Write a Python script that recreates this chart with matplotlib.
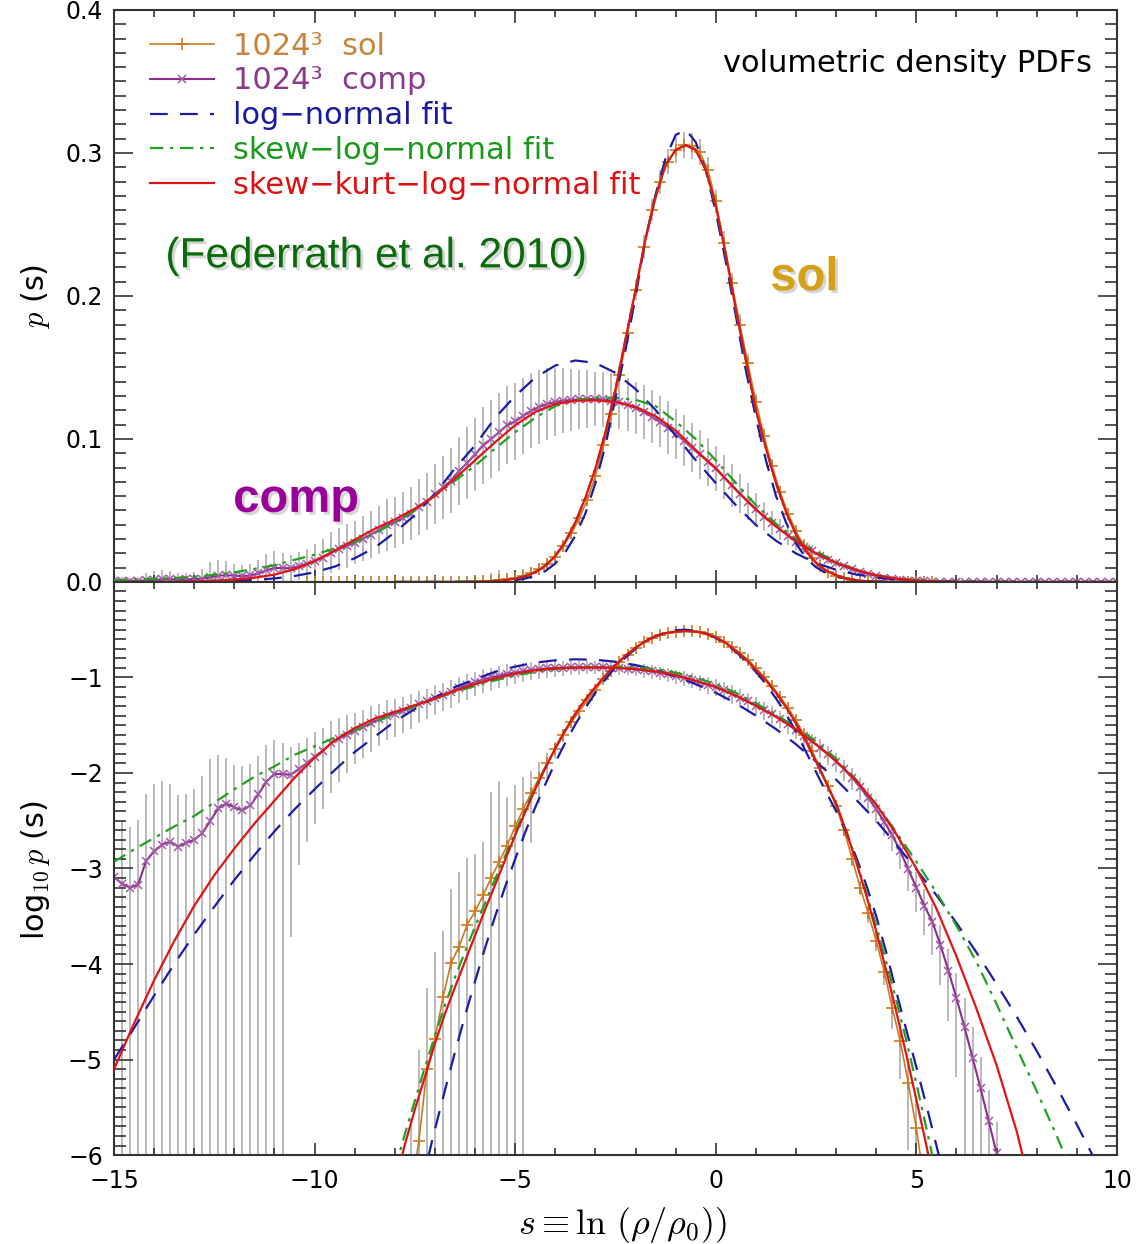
import numpy as np
import matplotlib
matplotlib.use('Agg')
import matplotlib.pyplot as plt
from matplotlib.ticker import MultipleLocator, FormatStrFormatter
import matplotlib.patheffects as pe

plt.rcParams['mathtext.fontset'] = 'cm'
plt.rcParams['font.family'] = ['DejaVu Sans']

# ---- measured PDFs, log10 p(s), bins 0.2 wide (nan = empty bin) ----
s_comp = np.round(np.linspace(-15.0, 10.0, 126), 2)
logp_comp = [
    -3.09, -3.16, -3.20, -3.17, -2.92, -2.82, -2.75, -2.72, -2.77, -2.73,
    -2.70, -2.63, -2.50, -2.37, -2.32, -2.36, -2.39, -2.34, -2.22, -2.09,
    -2.01, -2.01, -2.02, -1.96, -1.90, -1.83, -1.77, -1.69, -1.64, -1.60,
    -1.56, -1.52, -1.48, -1.44, -1.40, -1.38, -1.35, -1.32, -1.28, -1.25,
    -1.21, -1.18, -1.15, -1.11, -1.08, -1.05, -1.02, -1.00, -0.98, -0.96,
    -0.95, -0.935, -0.922, -0.912, -0.905, -0.90, -0.897, -0.895, -0.894, -0.893,
    -0.893, -0.894, -0.897, -0.901, -0.907, -0.915, -0.925, -0.937, -0.951, -0.967,
    -0.985, -1.005, -1.027, -1.05, -1.075, -1.10, -1.135, -1.17, -1.21, -1.25,
    -1.295, -1.34, -1.385, -1.435, -1.49, -1.55, -1.61, -1.67, -1.735, -1.805,
    -1.88, -1.96, -2.05, -2.15, -2.26, -2.38, -2.51, -2.65, -2.82, -3.01,
    -3.20, -3.39, -3.56, -3.80, -4.07, -4.36, -4.66, -4.98, -5.30, -5.64,
    -5.98, -6.3, -6.6, -6.9, -7.2, -7.5, -7.8, -8.1, -8.4, -8.7,
    -9.0, -9.3, -9.6, -9.9, -10.2, -10.5,
]
# relative 1-sigma scatter of the comp PDF
relerr_comp = [
    3.5, 3.6, 3.3, 3.8, 4.0, 4.1, 3.6, 3.0, 2.5, 2.2,
    2.4, 3.0, 3.4, 2.6, 2.0, 1.8, 1.9, 1.7, 1.5, 1.4,
    1.25, 1.1, 0.98, 0.9, 0.85, 0.8, 0.75, 0.7, 0.65, 0.6,
    0.55, 0.52, 0.5, 0.47, 0.45, 0.43, 0.41, 0.39, 0.37, 0.35,
    0.34, 0.33, 0.32, 0.31, 0.30, 0.29, 0.28, 0.27, 0.26, 0.25,
    0.24, 0.23, 0.22, 0.21, 0.20, 0.19, 0.18, 0.17, 0.16, 0.16,
    0.15, 0.15, 0.15, 0.15, 0.15, 0.15, 0.16, 0.16, 0.16, 0.17,
    0.17, 0.18, 0.18, 0.19, 0.20, 0.20, 0.21, 0.22, 0.22, 0.23,
    0.23, 0.22, 0.21, 0.20, 0.20, 0.20, 0.21, 0.21, 0.22, 0.22,
    0.23, 0.24, 0.25, 0.26, 0.27, 0.28, 0.30, 0.32, 0.35, 0.40,
    0.45, 0.50, 0.55, 0.62, 0.70, 0.85, 1.0, 1.1, 1.1, 1.1,
    1.1, 0, 0, 0, 0, 0, 0, 0, 0, 0,
    0, 0, 0, 0, 0, 0,
]

nan = float('nan')
s_sol = np.round(np.linspace(-10.2, 5.4, 79), 2)
logp_sol = [
    nan, nan, nan, nan, nan, nan, nan, nan, nan, nan,
    nan, nan, -7.0, -6.4, -5.85, -5.10, -4.78, -4.35, -3.99, -3.82,
    -3.59, -3.45, -3.28, -3.10, -2.93, -2.76, -2.56, -2.38, -2.21, -2.05,
    -1.90, -1.75, -1.60, -1.47, -1.35, -1.24, -1.13, -1.02, -0.93, -0.84,
    -0.76, -0.69, -0.63, -0.585, -0.553, -0.532, -0.52, -0.515, -0.516, -0.522,
    -0.54, -0.575, -0.625, -0.68, -0.745, -0.815, -0.90, -0.99, -1.09, -1.20,
    -1.32, -1.45, -1.60, -1.77, -1.95, -2.14, -2.35, -2.60, -2.90, -3.20,
    -3.47, -3.76, -4.08, -4.46, -4.81, -5.25, -5.72, -6.3, -6.9,
]
relerr_sol = [
    0, 0, 0, 0, 0, 0, 0, 0, 0, 0,
    0, 0, 3.0, 5.0, 8.0, 6.0, 7.0, 4.0, 5.0, 5.0,
    4.0, 3.0, 2.6, 7.0, 6.0, 2.2, 1.75, 1.2, 0.7, 0.45,
    0.30, 0.20, 0.15, 0.12, 0.10, 0.08, 0.07, 0.06, 0.05, 0.045,
    0.04, 0.035, 0.035, 0.03, 0.03, 0.03, 0.03, 0.03, 0.03, 0.03,
    0.03, 0.03, 0.035, 0.035, 0.04, 0.04, 0.045, 0.05, 0.055, 0.06,
    0.065, 0.07, 0.08, 0.09, 0.10, 0.11, 0.12, 0.13, 0.15, 0.17,
    0.20, 0.22, 0.28, 0.40, 0.60, 0.80, 1.1, 0, 0,
]

# ---- fits to comp, log10 p(s) on a 0.5 grid ----
s_fit_comp = np.round(np.linspace(-15.0, 10.0, 51), 2)
lognorm_comp = [
    -5.00, -4.67, -4.33, -4.00, -3.69, -3.40, -3.12, -2.86, -2.61, -2.38,
    -2.17, -1.97, -1.78, -1.62, -1.46, -1.33, -1.21, -1.10, -1.02, -0.94,
    -0.886, -0.845, -0.82, -0.81, -0.815, -0.835, -0.87, -0.92, -0.99, -1.07,
    -1.16, -1.27, -1.40, -1.54, -1.70, -1.88, -2.07, -2.28, -2.50, -2.75,
    -3.01, -3.28, -3.57, -3.88, -4.21, -4.55, -4.91, -5.29, -5.68, -6.09, -6.5,
]
skew_comp = [
    -2.93, -2.80, -2.68, -2.56, -2.45, -2.31, -2.17, -2.04, -1.93, -1.81,
    -1.72, -1.63, -1.55, -1.47, -1.38, -1.30, -1.22, -1.15, -1.09, -1.03,
    -0.98, -0.94, -0.91, -0.895, -0.89, -0.89, -0.895, -0.91, -0.95, -1.00,
    -1.07, -1.16, -1.27, -1.39, -1.52, -1.67, -1.85, -2.07, -2.33, -2.62,
    -2.93, -3.25, -3.60, -3.98, -4.42, -4.88, -5.33, -5.80, -6.3, -6.8, -7.3,
]
skewkurt_comp = [
    -5.10, -4.62, -4.17, -3.76, -3.39, -3.07, -2.79, -2.53, -2.29, -2.05,
    -1.84, -1.66, -1.53, -1.43, -1.36, -1.29, -1.22, -1.14, -1.07, -1.01,
    -0.96, -0.925, -0.905, -0.897, -0.896, -0.90, -0.912, -0.936, -0.975, -1.035,
    -1.10, -1.19, -1.295, -1.41, -1.545, -1.70, -1.875, -2.08, -2.33, -2.64,
    -3.00, -3.42, -3.92, -4.47, -5.06, -5.75, -6.6, -7.6, -8.6, -9.6, -10.6,
]

# ---- fits to sol, log10 p(s) on a 0.25 grid ----
s_fit_sol = np.round(np.linspace(-8.0, 6.0, 57), 2)
lognorm_sol = [
    -7.55, -7.07, -6.60, -6.16, -5.73, -5.32, -4.92, -4.54, -4.18, -3.83,
    -3.50, -3.19, -2.90, -2.62, -2.36, -2.12, -1.89, -1.68, -1.49, -1.32,
    -1.16, -1.02, -0.89, -0.79, -0.70, -0.62, -0.567, -0.528, -0.505, -0.50,
    -0.512, -0.541, -0.587, -0.65, -0.73, -0.83, -0.94, -1.07, -1.22, -1.38,
    -1.57, -1.78, -1.99, -2.20, -2.40, -2.62, -2.88, -3.17, -3.50, -3.88,
    -4.29, -4.69, -5.08, -5.48, -5.90, -6.33, -6.79,
]
skew_sol = [
    -6.15, -5.78, -5.43, -5.08, -4.75, -4.43, -4.14, -3.87, -3.61, -3.36,
    -3.11, -2.87, -2.62, -2.38, -2.15, -1.94, -1.74, -1.55, -1.38, -1.23,
    -1.10, -0.98, -0.87, -0.77, -0.69, -0.62, -0.57, -0.535, -0.52, -0.515,
    -0.52, -0.54, -0.58, -0.64, -0.72, -0.81, -0.92, -1.03, -1.16, -1.31,
    -1.48, -1.67, -1.88, -2.10, -2.33, -2.60, -2.92, -3.25, -3.60, -3.98,
    -4.38, -4.80, -5.25, -5.72, -6.2, -6.7, -7.2,
]
skewkurt_sol = [
    -6.3, -5.89, -5.52, -5.18, -4.83, -4.52, -4.24, -3.97, -3.70, -3.43,
    -3.17, -2.91, -2.65, -2.41, -2.17, -1.95, -1.74, -1.55, -1.38, -1.23,
    -1.10, -0.98, -0.87, -0.77, -0.69, -0.62, -0.57, -0.535, -0.52, -0.515,
    -0.52, -0.54, -0.58, -0.64, -0.72, -0.81, -0.92, -1.03, -1.16, -1.31,
    -1.48, -1.67, -1.88, -2.10, -2.32, -2.61, -2.93, -3.28, -3.66, -4.07,
    -4.50, -4.95, -5.42, -5.90, -6.4, -6.9, -7.4,
]

legend_labels = ['1024³  sol', '1024³  comp', 'log−normal fit',
                 'skew−log−normal fit', 'skew−kurt−log−normal fit']

c_sol = '#cc7a22'
c_comp = '#8b2d8b'
c_comp_mk = '#a35aa8'
c_blue = '#1c1ca6'
c_green = '#22a022'
c_red = '#e01414'
c_err = '#a6a6a6'
text_cols = ['#c8823c', '#8b3a8b', '#1a1aa0', '#1a9a1a', '#dd1111']

blue_ls = (0, (8, 5.5))
green_ls = (0, (6, 3, 1.5, 3))


def to_lin(vals):
    a = np.array(vals, dtype=float)
    return np.where(np.isfinite(a), 10.0 ** a, 0.0)


def errbars(ax, s, logp, rel, log=False):
    p = to_lin(logp)
    sig = np.array(rel) * p
    ok = sig > 0
    lo = p - sig
    hi = p + sig
    if log:
        lo = np.log10(np.clip(lo, 1e-12, None))
        hi = np.log10(hi)
    ax.vlines(s[ok], lo[ok], hi[ok], color=c_err, lw=1.1, zorder=1)


fig = plt.figure(figsize=(11.38, 12.44), dpi=100)
ax1 = fig.add_axes([0.1002, 0.5322, 0.8813, 0.4598])
ax2 = fig.add_axes([0.1002, 0.0715, 0.8813, 0.4607])

for ax, log in ((ax1, False), (ax2, True)):
    conv = (lambda v: np.array(v, dtype=float)) if log else to_lin
    errbars(ax, s_comp, logp_comp, relerr_comp, log)
    errbars(ax, s_sol, logp_sol, relerr_sol, log)
    ax.plot(s_sol, conv(logp_sol), color=c_sol, lw=1.2, marker='+', ms=9,
            mew=1.2, zorder=2, label=legend_labels[0])
    ax.plot(s_comp, conv(logp_comp), color=c_comp, lw=1.5, marker='x', ms=6,
            mew=1.1, mec=c_comp_mk, zorder=2, label=legend_labels[1])
    ax.plot(s_fit_comp, conv(lognorm_comp), color=c_blue, lw=1.6, ls=blue_ls,
            zorder=3, label=legend_labels[2])
    ax.plot(s_fit_comp, conv(skew_comp), color=c_green, lw=1.6, ls=green_ls,
            zorder=3, label=legend_labels[3])
    ax.plot(s_fit_comp, conv(skewkurt_comp), color=c_red, lw=1.6, zorder=4,
            label=legend_labels[4])
    ax.plot(s_fit_sol, conv(lognorm_sol), color=c_blue, lw=1.6, ls=blue_ls, zorder=3)
    ax.plot(s_fit_sol, conv(skew_sol), color=c_green, lw=1.6, ls=green_ls, zorder=3)
    ax.plot(s_fit_sol, conv(skewkurt_sol), color=c_red, lw=1.6, zorder=4)

    ax.set_xlim(-15, 10)
    ax.xaxis.set_major_locator(MultipleLocator(5))
    ax.xaxis.set_minor_locator(MultipleLocator(1))
    ax.tick_params(axis='both', which='both', direction='in', top=True,
                   right=True, width=1.2, color='#333333', labelsize=17)
    ax.tick_params(axis='x', which='major', length=9)
    ax.tick_params(axis='x', which='minor', length=5)
    ax.tick_params(axis='y', which='major', length=14, pad=8)
    ax.tick_params(axis='y', which='minor', length=8.5)
    for sp in ax.spines.values():
        sp.set_linewidth(1.5)
        sp.set_color('#333333')

ax1.set_ylim(0, 0.4)
ax1.yaxis.set_major_locator(MultipleLocator(0.1))
ax1.yaxis.set_minor_locator(MultipleLocator(0.01))
ax1.yaxis.set_major_formatter(FormatStrFormatter('%.1f'))
ax1.tick_params(axis='x', labelbottom=False)

ax2.set_ylim(-6, 0)
ax2.set_yticks([-6, -5, -4, -3, -2, -1])
ax2.yaxis.set_minor_locator(MultipleLocator(0.1))
ax2.tick_params(axis='x', pad=10)

leg = ax1.legend(loc='upper left', bbox_to_anchor=(0.036, 0.962), frameon=False,
                 fontsize=22, handlelength=2.1, handletextpad=0.6,
                 labelspacing=0.19, borderpad=0, borderaxespad=0)
for txt, col in zip(leg.get_texts(), text_cols):
    txt.set_color(col)

ax1.text(0.975, 0.906, 'volumetric density PDFs', transform=ax1.transAxes,
         ha='right', va='center', fontsize=22, color='black')

shadow = [pe.SimplePatchShadow(offset=(2, -2), shadow_rgbFace='#888888', alpha=0.35),
          pe.Normal()]
ax1.text(-8.47, 0.220, '(Federrath et al. 2010)', ha='center', va='baseline',
         fontsize=30.5, family='Liberation Sans', color='#0b6b0b',
         path_effects=shadow, zorder=6)
ax1.text(2.21, 0.204, 'sol', ha='center', va='baseline', fontsize=34,
         family='Liberation Sans', fontweight='bold', color='#d4a017',
         path_effects=shadow, zorder=6)
ax1.text(-10.46, 0.049, 'comp', ha='center', va='baseline', fontsize=34,
         family='Liberation Sans', fontweight='bold', color='#990099',
         path_effects=shadow, zorder=6)

fig.text(35 / 1138, 1 - 296 / 1244, r'$p$ (s)', rotation=90, ha='center',
         va='center', fontsize=22)
fig.text(35 / 1138, 1 - 870 / 1244, r'log$_{10}\,p$ (s)', rotation=90,
         ha='center', va='center', fontsize=22)
fig.text(623 / 1138, 1 - 1225 / 1244, r'$s \equiv \ln\,(\rho/\rho_0))$',
         ha='center', va='center', fontsize=26)

fig.savefig('out.png', dpi=100)
